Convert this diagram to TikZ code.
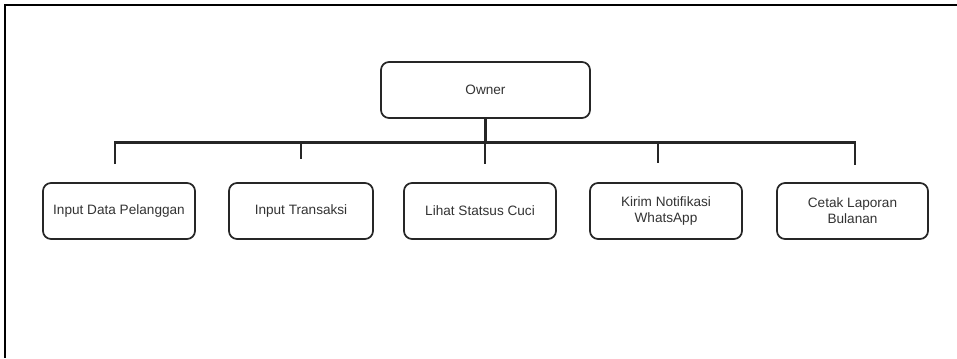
\documentclass[tikz,border=0pt]{standalone}
\usepackage{fontspec}
\setmainfont{Liberation Sans}
\begin{document}
\begin{tikzpicture}[x=0.75pt,y=-0.75pt,
  box/.style={draw=black!85, line width=1.3pt, rounded corners=6pt, fill=white,
    minimum width=#1*0.75pt, minimum height=42pt, align=center,
    font=\fontsize{10.2pt}{12pt}\selectfont, text=black!80, inner sep=1pt},
  link/.style={draw=black!85, line width=1.6pt},
  frame/.style={draw=black, line width=1.1pt}]
\useasboundingbox (0,0) rectangle (957,358);
% page frame: top and left edges only
\draw[frame] (957,5) -- (5,5) -- (5,358);
% root
\node[box=209] (owner) at (485.5,90) {Owner};
% children
\node[box=152] (c1) at (119,211) {Input Data Pelanggan};
\node[box=144] (c2) at (301,211) {Input Transaksi};
\node[box=152] (c3) at (480,211) {Lihat Statsus Cuci};
\node[box=152] (c4) at (666,211) {Kirim Notifikasi\\WhatsApp};
\node[box=151] (c5) at (852.5,211) {Cetak Laporan\\Bulanan};
% bus and stubs
\coordinate (b0) at (owner.south |- 0,142.5);
\coordinate (s1) at (115,142.5);
\coordinate (s2) at (301,142.5);
\coordinate (s3) at (485,142.5);
\coordinate (s4) at (658,142.5);
\coordinate (s5) at (855,142.5);
\coordinate (t1) at (115,164);
\coordinate (t2) at (301,159);
\coordinate (t3) at (485,164);
\coordinate (t4) at (658,163);
\coordinate (t5) at (855,165);
\draw[link] (owner.south) -- (b0);
\draw[link] (t1) -- (s1) -- (s5) -- (t5);
\draw[link] (s2) -- (t2);
\draw[link] (s3) -- (t3);
\draw[link] (s4) -- (t4);
\end{tikzpicture}
\end{document}
